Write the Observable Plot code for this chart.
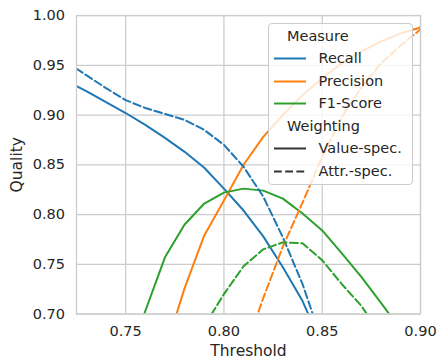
<!DOCTYPE html>
<html>
<head>
<meta charset="utf-8">
<script src="https://cdn.jsdelivr.net/npm/d3@7"></script>
<script src="https://cdn.jsdelivr.net/npm/@observablehq/plot@0.6"></script>
<style>
  html, body { margin: 0; padding: 0; background: white; }
  #chart { position: relative; width: 438px; height: 359px; font-family: "DejaVu Sans", sans-serif; color: #262626; }
  #legend { position: absolute; left: 268px; top: 22.5px; width: 144.5px; height: 162.5px; box-sizing: border-box;
            background: rgba(255,255,255,0.8); border: 1px solid #cccccc; border-radius: 4px; }
  #legend .row { position: absolute; left: 0; height: 22px; display: flex; align-items: center; font-size: 14.5px; white-space: nowrap; }
  #legend svg { display: block; }
</style>
</head>
<body>
<div id="chart"></div>
<script>
const thresholds     = [0.72, 0.73, 0.74, 0.75, 0.76, 0.77, 0.78, 0.79, 0.80, 0.81, 0.82, 0.83, 0.84, 0.85, 0.86, 0.87, 0.88, 0.89, 0.90];
const recallValue    = [0.934, 0.924, 0.913, 0.902, 0.890, 0.877, 0.863, 0.847, 0.826, 0.804, 0.778, 0.747, 0.713, 0.668, null, null, null, null, null];
const recallAttr     = [0.953, 0.940, 0.927, 0.915, 0.907, 0.901, 0.895, 0.885, 0.870, 0.848, 0.818, 0.777, 0.730, 0.672, null, null, null, null, null];
const precisionValue = [null, null, null, null, null, 0.663, 0.726, 0.779, 0.814, 0.850, 0.878, 0.900, 0.920, 0.937, 0.952, 0.964, 0.974, 0.982, 0.988];
const precisionAttr  = [null, null, null, null, null, null, null, null, null, 0.660, 0.716, 0.768, 0.812, 0.858, 0.898, 0.928, 0.952, 0.970, 0.986];
const f1Value        = [null, null, null, 0.640, 0.703, 0.757, 0.790, 0.811, 0.822, 0.826, 0.824, 0.816, 0.801, 0.784, 0.761, 0.737, 0.711, 0.684, null];
const f1Attr         = [null, null, null, null, null, null, 0.650, 0.688, 0.720, 0.748, 0.765, 0.772, 0.771, 0.754, 0.730, 0.708, 0.678, null, null];

const measureNames   = ["Recall", "Precision", "F1-Score"];
const weightingNames = ["Value-spec.", "Attr.-spec."];
const measureColors  = ["#1f77b4", "#ff7f0e", "#2ca02c"];
const xTicks = [0.75, 0.80, 0.85, 0.90];
const yTicks = [0.70, 0.75, 0.80, 0.85, 0.90, 0.95, 1.00];

const series = [
  {measure: "Recall", weighting: "Value-spec.", values: recallValue},
  {measure: "Recall", weighting: "Attr.-spec.", values: recallAttr},
  {measure: "Precision", weighting: "Value-spec.", values: precisionValue},
  {measure: "Precision", weighting: "Attr.-spec.", values: precisionAttr},
  {measure: "F1-Score", weighting: "Value-spec.", values: f1Value},
  {measure: "F1-Score", weighting: "Attr.-spec.", values: f1Attr}
];
const rows = series.flatMap(s => thresholds.map((t, i) => ({t, v: s.values[i], measure: s.measure, weighting: s.weighting, key: s.measure + "|" + s.weighting})))
  .filter(d => d.v != null);

const dash = "7.8,3.4";
const lineOpts = {x: "t", y: "v", z: "key", stroke: "measure", strokeWidth: 2, clip: true};

const plot = Plot.plot({
  width: 438, height: 359,
  marginLeft: 76, marginRight: 18, marginTop: 15, marginBottom: 45.5,
  style: {fontFamily: "DejaVu Sans, sans-serif", fontSize: "14.5px", color: "#262626", background: "white", overflow: "visible"},
  x: {domain: [0.725, 0.90]},
  y: {domain: [0.70, 1.00]},
  color: {domain: measureNames, range: measureColors},
  marks: [
    Plot.gridX(xTicks, {stroke: "#cccccc", strokeOpacity: 1, strokeWidth: 1.25}),
    Plot.gridY(yTicks, {stroke: "#cccccc", strokeOpacity: 1, strokeWidth: 1.25}),
    Plot.line(rows.filter(d => d.weighting === "Value-spec."), lineOpts),
    Plot.line(rows.filter(d => d.weighting === "Attr.-spec."), {...lineOpts, strokeDasharray: dash}),
    Plot.frame({stroke: "#cccccc", strokeWidth: 1.25}),
    Plot.axisX(xTicks, {tickSize: 0, tickPadding: 12, tickFormat: d3.format(".2f"), label: null, fontSize: 14.5}),
    Plot.axisY(yTicks, {tickSize: 0, tickPadding: 11.5, tickFormat: d3.format(".2f"), label: null, fontSize: 14.5}),
    Plot.text(["Threshold"], {text: d => d, frameAnchor: "bottom", dy: 37, lineAnchor: "middle", textAnchor: "middle", fontSize: 15.5, fill: "#262626"}),
    Plot.text(["Quality"], {text: d => d, frameAnchor: "left", dx: -59, rotate: -90, lineAnchor: "middle", textAnchor: "middle", fontSize: 15.5, fill: "#262626"})
  ]
});

const chart = document.getElementById("chart");
chart.appendChild(plot);

// Legend overlay
const legend = d3.select(chart).append("div").attr("id", "legend");
const entries = [
  {type: "title", label: "Measure"},
  ...measureNames.map((m, i) => ({type: "item", label: m, color: measureColors[i], dash: null})),
  {type: "title", label: "Weighting"},
  ...weightingNames.map((w, i) => ({type: "item", label: w, color: "#333333", dash: i === 1 ? dash : null}))
];
entries.forEach((e, i) => {
  const row = legend.append("div").attr("class", "row").style("top", (1.3 + i * 22.5) + "px");
  if (e.type === "title") {
    row.style("left", "18px").text(e.label);
  } else {
    const svg = row.append("svg").attr("width", 37).attr("height", 22).style("margin-left", "0px");
    svg.append("line").attr("x1", 5).attr("x2", 37).attr("y1", 11.5).attr("y2", 11.5)
      .attr("stroke", e.color).attr("stroke-width", 2).attr("stroke-dasharray", e.dash);
    row.append("span").style("margin-left", "12.5px").text(e.label);
  }
});
</script>
</body>
</html>
